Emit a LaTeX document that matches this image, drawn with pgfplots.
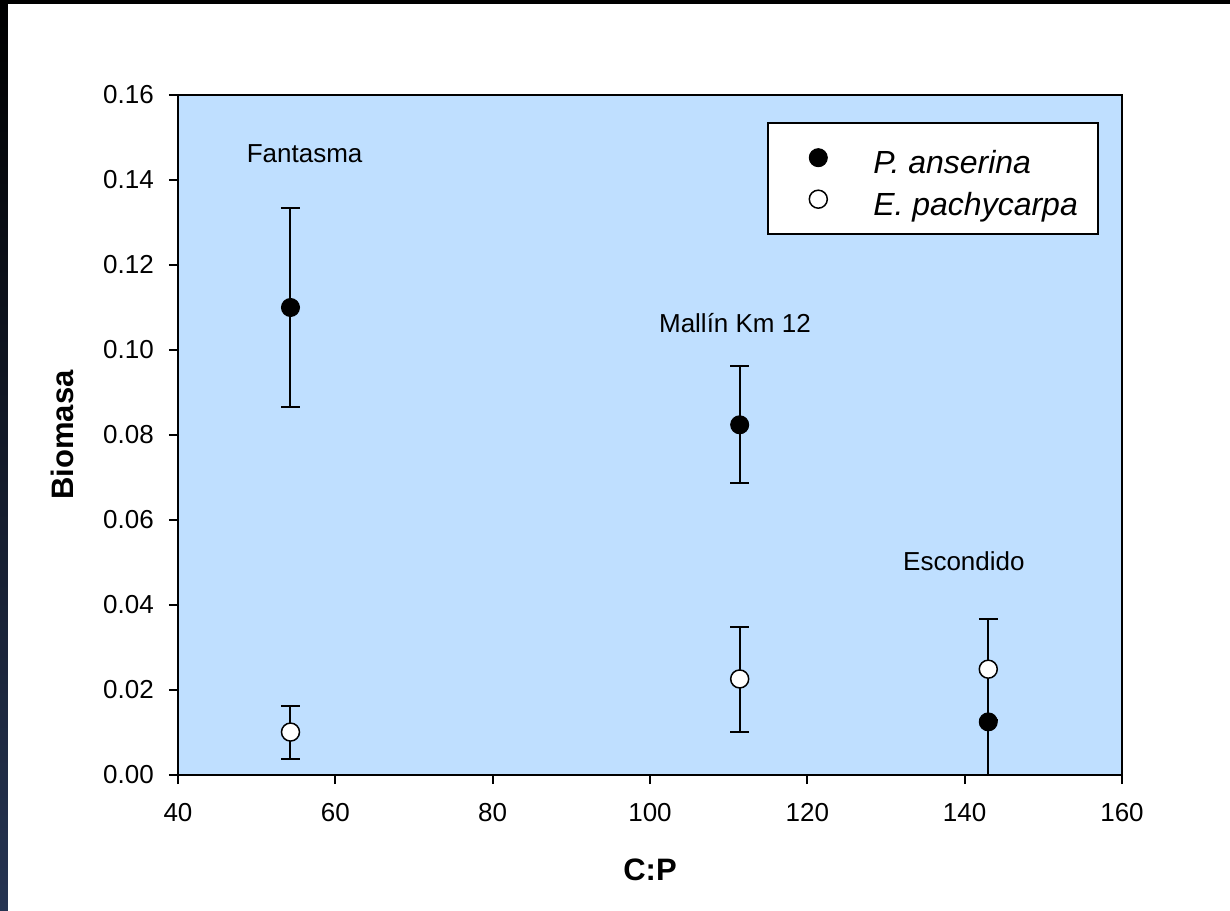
\documentclass[border=0pt]{standalone}
\usepackage{fontspec}
\setmainfont{Liberation Sans}
\usepackage{pgfplots}
\pgfplotsset{compat=1.18}
\definecolor{plotbg}{RGB}{191,223,255}
\definecolor{navyedge}{RGB}{38,52,82}
\pgfplotsset{mylegimg/.style={legend image code/.code={\path[draw=none,fill=none] (-22bp,0bp) -- (0bp,0bp);
    \draw[mark repeat=2,mark phase=2,##1] plot coordinates {(0cm,0cm) (0.3cm,0cm) (0.6cm,0cm)};}}}
\pgfplotstableread{
x      y       ep      em
54.3   0.1100  0.0235  0.0235
111.4  0.0824  0.0138  0.0138
143.0  0.0125  0.0125  0.0200
}\anserina
\pgfplotstableread{
x      y       ep      em
54.3   0.0101  0.0061  0.0063
111.4  0.0226  0.0122  0.0125
143.0  0.0249  0.0118  0.0120
}\pachycarpa
\begin{document}
\begin{tikzpicture}
\fill[white] (-178bp,-136bp) rectangle (1052bp,775bp);
\fill[black] (-178bp,771bp) rectangle (1052bp,775bp);
\shade[top color=black, bottom color=navyedge] (-178bp,-136bp) rectangle (-170bp,775bp);
\begin{axis}[
  scale only axis, width=944bp, height=680bp,
  xmin=40, xmax=160, ymin=0, ymax=0.16,
  xtick={40,60,80,100,120,140,160},
  ytick={0,0.02,0.04,0.06,0.08,0.10,0.12,0.14,0.16},
  scaled y ticks=false,
  /pgf/number format/assume math mode=true,
  tick label style={font=\fontsize{26bp}{30bp}\selectfont},
  yticklabel style={anchor=east, inner sep=0bp, xshift=-15bp,
    /pgf/number format/.cd, fixed, fixed zerofill, precision=2},
  xticklabel style={anchor=north, inner sep=0bp, yshift=-19bp},
  axis background/.style={fill=plotbg},
  axis line style={line width=2bp, black},
  tick pos=left, tick align=outside, major tick length=9bp,
  tick style={line width=2bp, black},
  xlabel={C:P}, ylabel={Biomasa},
  label style={font=\fontsize{31bp}{36bp}\selectfont\bfseries},
  xlabel style={at={(axis description cs:0.5,0)}, anchor=center, yshift=-95bp},
  ylabel style={at={(axis description cs:0,0.5)}, anchor=center, yshift=116bp},
  legend style={at={(0.624,0.960)}, anchor=north west, draw=black, line width=1.5bp,
    fill=white, inner xsep=20bp, inner ysep=17bp, row sep=6bp, column sep=46bp,
    font=\fontsize{32bp}{36bp}\selectfont\itshape, nodes={inner sep=0bp, text height=34bp}},
  legend cell align=left,
]
\addplot+[only marks, mark=*, mark size=9bp, draw=black,
  mark options={fill=black, draw=black, line width=1bp}, mylegimg,
  error bars/.cd, y dir=both, y explicit,
  error bar style={line width=2bp, black},
  error mark options={black, line width=2bp, mark size=9.5bp, rotate=90}]
  table[x=x, y=y, y error plus=ep, y error minus=em] {\anserina};
\addlegendentry{P. anserina}
\addplot+[only marks, mark=*, mark size=9bp, draw=black,
  mark options={fill=white, draw=black, line width=1.5bp}, mylegimg,
  error bars/.cd, y dir=both, y explicit,
  error bar style={line width=2bp, black},
  error mark options={black, line width=2bp, mark size=9.5bp, rotate=90}]
  table[x=x, y=y, y error plus=ep, y error minus=em] {\pachycarpa};
\addlegendentry{E. pachycarpa}
\node[anchor=base, font=\fontsize{26bp}{30bp}\selectfont] at (axis cs:56.1,0.1442) {Fantasma};
\node[anchor=base, font=\fontsize{26bp}{30bp}\selectfont] at (axis cs:110.8,0.1042) {Mallín Km 12};
\node[anchor=base, font=\fontsize{26bp}{30bp}\selectfont] at (axis cs:139.9,0.0482) {Escondido};
\end{axis}
\end{tikzpicture}
\end{document}
